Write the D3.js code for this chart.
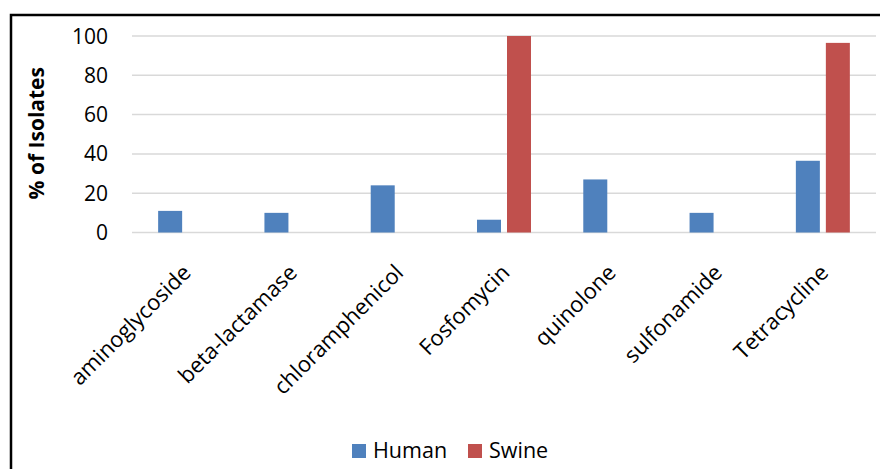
<!DOCTYPE html>
<html>
<head>
<meta charset="utf-8">
<script src="https://cdn.jsdelivr.net/npm/d3@7"></script>
<style>
  html, body { margin: 0; padding: 0; background: #fff; }
  svg { display: block; }
  text { font-family: "Open Sans", sans-serif; fill: #000; }
</style>
</head>
<body>
<svg id="chart" width="880" height="469"></svg>
<script>
// Antimicrobial resistance classes (% of isolates)
const categories = ["aminoglycoside", "beta-lactamase", "chloramphenicol", "Fosfomycin", "quinolone", "sulfonamide", "Tetracycline"];
const seriesNames = ["Human", "Swine"];
const human = [11, 10, 24, 6.5, 27, 10, 36.5];
const swine = [0, 0, 0, 100, 0, 0, 96.5];
const yTicks = [0, 20, 40, 60, 80, 100];
const colors = ["#4f81bd", "#c0504d"];

const svg = d3.select("#chart");
const W = 880, H = 469;

// outer chart frame
svg.append("rect")
  .attr("x", 11).attr("y", 15)
  .attr("width", W + 20).attr("height", H + 20)
  .attr("fill", "none").attr("stroke", "#000").attr("stroke-width", 2.5);

const plot = { left: 132, right: 876, top: 36, bottom: 232.5 };

const x = d3.scaleBand().domain(categories).range([plot.left, plot.right]).paddingInner(0).paddingOuter(0);
const y = d3.scaleLinear().domain([0, 100]).range([plot.bottom, plot.top]);

// horizontal gridlines
svg.append("g").selectAll("line").data(yTicks).join("line")
  .attr("x1", plot.left).attr("x2", plot.right)
  .attr("y1", d => y(d)).attr("y2", d => y(d))
  .attr("stroke", "#d9d9d9").attr("stroke-width", 1.5);

// y tick labels
svg.append("g").selectAll("text").data(yTicks).join("text")
  .attr("x", 108).attr("y", d => y(d))
  .attr("dy", "0.36em")
  .attr("text-anchor", "end")
  .style("font-size", "21px")
  .text(d => d);

// y axis title
svg.append("text")
  .attr("transform", `translate(44, ${(plot.top + plot.bottom) / 2 - 1}) rotate(-90)`)
  .attr("text-anchor", "middle")
  .style("font-size", "21px").style("font-weight", "bold")
  .text("% of Isolates");

// grouped bars
const barW = 24, gap = 6;
const table = categories.map((c, i) => ({ cat: c, values: [human[i], swine[i]] }));
const groups = svg.append("g").selectAll("g").data(table).join("g")
  .attr("transform", d => `translate(${x(d.cat) + x.bandwidth() / 2}, 0)`);
groups.selectAll("rect")
  .data(d => d.values.map((v, k) => ({ v, k })).filter(e => e.v > 0))
  .join("rect")
  .attr("x", e => e.k === 0 ? -(barW + gap / 2) : gap / 2)
  .attr("width", barW)
  .attr("y", e => y(e.v))
  .attr("height", e => y(0) - y(e.v))
  .attr("fill", e => colors[e.k]);

// category labels, rotated
svg.append("g").selectAll("text").data(categories).join("text")
  .attr("transform", d => `translate(${x(d) + x.bandwidth() / 2 + 7}, 274) rotate(-45)`)
  .attr("text-anchor", "end")
  .style("font-size", "22px")
  .text(d => d);

// legend
const legend = svg.append("g");
const legendX = [352, 468];
seriesNames.forEach((name, k) => {
  legend.append("rect")
    .attr("x", legendX[k]).attr("y", 444)
    .attr("width", 14).attr("height", 14)
    .attr("fill", colors[k]);
  legend.append("text")
    .attr("x", legendX[k] + 21).attr("y", 458)
    .style("font-size", "21.5px")
    .text(name);
});
</script>
</body>
</html>
